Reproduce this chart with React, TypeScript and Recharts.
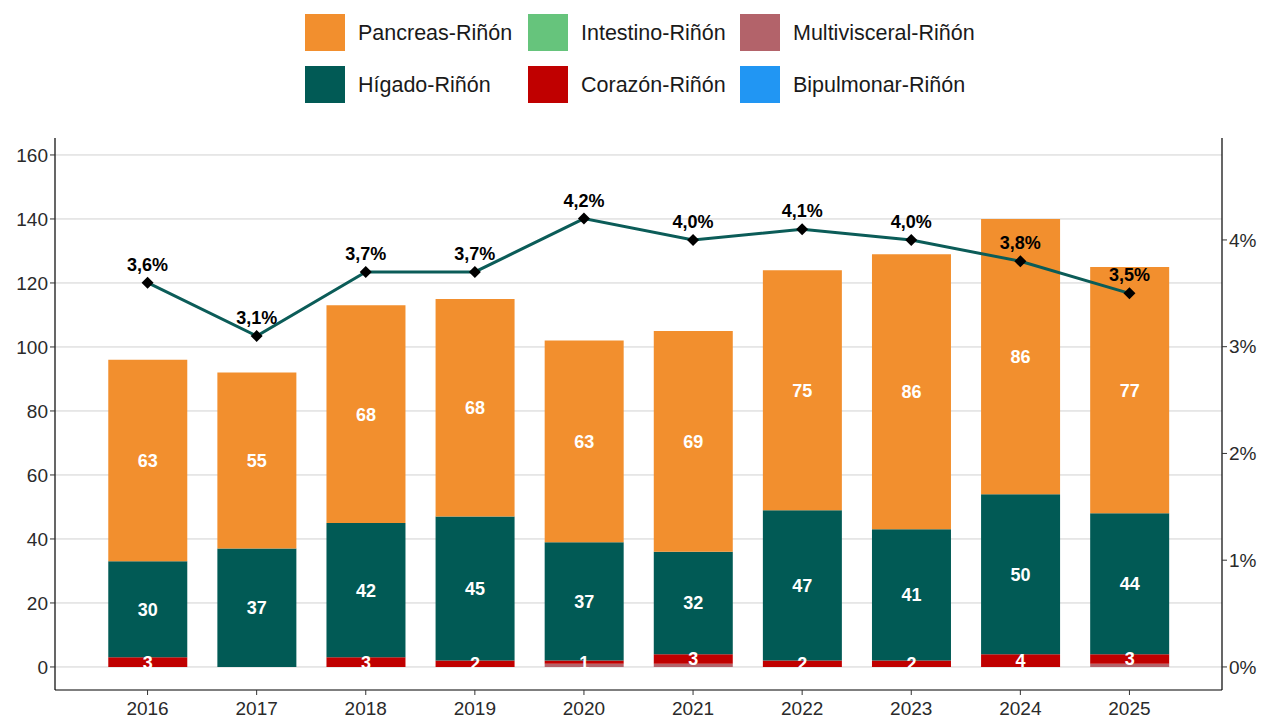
import { Bar, CartesianGrid, ComposedChart, LabelList, Line, XAxis, YAxis } from "recharts";

const years = ["2016", "2017", "2018", "2019", "2020", "2021", "2022", "2023", "2024", "2025"];
const multivisceral = [0, 0, 0, 0, 1, 1, 0, 0, 0, 1];
const corazon = [3, 0, 3, 2, 1, 3, 2, 2, 4, 3];
const higado = [30, 37, 42, 45, 37, 32, 47, 41, 50, 44];
const pancreas = [63, 55, 68, 68, 63, 69, 75, 86, 86, 77];
const intestino = [0, 0, 0, 0, 0, 0, 0, 0, 0, 0];
const bipulmonar = [0, 0, 0, 0, 0, 0, 0, 0, 0, 0];
const porcentaje = [3.6, 3.1, 3.7, 3.7, 4.2, 4.0, 4.1, 4.0, 3.8, 3.5];

const leftTicks = [0, 20, 40, 60, 80, 100, 120, 140, 160];
const rightTicks = [0, 1, 2, 3, 4];

const COLORS = {
  pancreas: "#F28F2E",
  intestino: "#66C47C",
  multivisceral: "#B3636A",
  higado: "#015A55",
  corazon: "#C00000",
  bipulmonar: "#2196F3",
};

const legendItems = [
  { name: "Pancreas-Riñón", color: COLORS.pancreas },
  { name: "Intestino-Riñón", color: COLORS.intestino },
  { name: "Multivisceral-Riñón", color: COLORS.multivisceral },
  { name: "Hígado-Riñón", color: COLORS.higado },
  { name: "Corazón-Riñón", color: COLORS.corazon },
  { name: "Bipulmonar-Riñón", color: COLORS.bipulmonar },
];

const data = years.map((year, i) => ({
  year,
  multivisceral: multivisceral[i],
  corazon: corazon[i],
  higado: higado[i],
  pancreas: pancreas[i],
  intestino: intestino[i],
  bipulmonar: bipulmonar[i],
  pct: porcentaje[i],
}));

const FONT = "'Liberation Sans', Arial, sans-serif";

// diamond marker for the percentage line
const Diamond = (props: any) => {
  const { cx, cy } = props;
  if (cx == null || cy == null) return null;
  const r = 6;
  return <path d={`M${cx},${cy - r}L${cx + r},${cy}L${cx},${cy + r}L${cx - r},${cy}Z`} fill="#000" />;
};

const hideZero = (v: any) => (v > 0 ? v : "");

function ChartLegend() {
  return (
    <div
      style={{
        position: "absolute",
        left: 305,
        top: 14,
        display: "grid",
        gridTemplateColumns: "223px 212px 240px",
        rowGap: 15,
        fontFamily: FONT,
        fontSize: 21.5,
        color: "#1a1a1a",
      }}
    >
      {legendItems.map((item) => (
        <div key={item.name} style={{ display: "flex", alignItems: "center", height: 37, whiteSpace: "nowrap" }}>
          <div style={{ width: 40, height: 37, background: item.color, marginRight: 13, flexShrink: 0 }} />
          <span style={{ position: "relative", top: 1 }}>{item.name}</span>
        </div>
      ))}
    </div>
  );
}

const tickStyle = { fill: "#2a2a2a", fontSize: 19 };

export default function App() {
  return (
    <div style={{ position: "absolute", left: 0, top: 0, width: 1263, height: 719, background: "#fff" }}>
      <ChartLegend />
      <ComposedChart
        width={1263}
        height={719}
        data={data}
        margin={{ top: 138, right: 0, bottom: 0, left: 0 }}
        barCategoryGap="14%"
        style={{ fontFamily: FONT }}
      >
        <CartesianGrid yAxisId="left" vertical={false} stroke="#d2d2d2" strokeWidth={1} syncWithTicks />
        <XAxis
          dataKey="year"
          padding={{ left: 38, right: 38 }}
          axisLine={{ stroke: "#000", strokeWidth: 1.2 }}
          tickLine={{ stroke: "#333" }}
          tickSize={5}
          tickMargin={7}
          tick={tickStyle}
          height={29}
          interval={0}
        />
        <YAxis
          yAxisId="left"
          domain={[-7.2, 165.3]}
          ticks={leftTicks}
          allowDataOverflow
          width={55}
          axisLine={{ stroke: "#000", strokeWidth: 1.2 }}
          tickLine={{ stroke: "#333" }}
          tickSize={5}
          tick={tickStyle}
        />
        <YAxis
          yAxisId="right"
          orientation="right"
          domain={[-0.216, 4.955]}
          ticks={rightTicks}
          allowDataOverflow
          width={41}
          axisLine={{ stroke: "#000", strokeWidth: 1.2 }}
          tickLine={{ stroke: "#333" }}
          tickSize={5}
          tick={tickStyle}
          tickFormatter={(v: number) => `${v}%`}
        />
        <Bar yAxisId="left" dataKey="multivisceral" stackId="a" fill={COLORS.multivisceral} isAnimationActive={false} />
        <Bar yAxisId="left" dataKey="corazon" stackId="a" fill={COLORS.corazon} isAnimationActive={false}>
          <LabelList dataKey="corazon" position="center" fill="#fff" fontSize={18} fontWeight="bold" formatter={hideZero} />
        </Bar>
        <Bar yAxisId="left" dataKey="higado" stackId="a" fill={COLORS.higado} isAnimationActive={false}>
          <LabelList dataKey="higado" position="center" fill="#fff" fontSize={18} fontWeight="bold" formatter={hideZero} />
        </Bar>
        <Bar yAxisId="left" dataKey="intestino" stackId="a" fill={COLORS.intestino} isAnimationActive={false} />
        <Bar yAxisId="left" dataKey="bipulmonar" stackId="a" fill={COLORS.bipulmonar} isAnimationActive={false} />
        <Bar yAxisId="left" dataKey="pancreas" stackId="a" fill={COLORS.pancreas} isAnimationActive={false}>
          <LabelList dataKey="pancreas" position="center" fill="#fff" fontSize={18} fontWeight="bold" formatter={hideZero} />
        </Bar>
        <Line
          yAxisId="right"
          dataKey="pct"
          type="linear"
          stroke="#0B5C58"
          strokeWidth={3}
          dot={<Diamond />}
          activeDot={false}
          isAnimationActive={false}
        >
          <LabelList
            dataKey="pct"
            position="top"
            offset={12}
            fill="#000"
            fontSize={18}
            fontWeight="bold"
            formatter={(v: any) => `${Number(v).toFixed(1).replace(".", ",")}%`}
          />
        </Line>
      </ComposedChart>
    </div>
  );
}
